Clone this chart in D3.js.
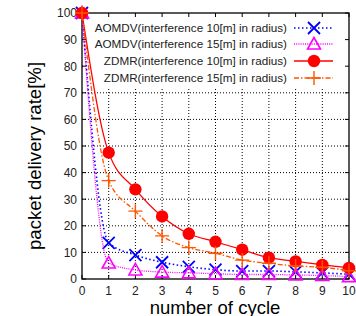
<!DOCTYPE html>
<html>
<head>
<meta charset="utf-8">
<script src="https://cdn.jsdelivr.net/npm/d3@7"></script>
<style>
  body { margin: 0; background: #fff; }
  text { font-family: "Liberation Sans", Arial, sans-serif; }
</style>
</head>
<body>
<div id="chart"></div>
<script>
// number of cycle
var cycles = [0, 1, 2, 3, 4, 5, 6, 7, 8, 9, 10]
var aomdv10 = [100, 13.6, 9, 6.3, 4.6, 3.5, 3, 3, 2.7, 2.3, 1.8]
var aomdv15 = [100, 6, 3.4, 2.6, 2.3, 2, 1.7, 1.7, 1.5, 1.3, 0.9]
var zdmr10 = [100, 47.5, 33.7, 23.5, 17, 14, 11, 8, 6.6, 5.3, 4.2]
var zdmr15 = [100, 37, 25.5, 16.2, 11.8, 9.7, 7.1, 5.9, 4.9, 4.4, 3.1]
var seriesNames = [
    "AOMDV(interference 10[m] in radius)",
    "AOMDV(interference 15[m] in radius)",
    "ZDMR(interference 10[m] in radius)",
    "ZDMR(interference 15[m] in radius)"
]
var yTicks = [0, 10, 20, 30, 40, 50, 60, 70, 80, 90, 100]

var W = 356, H = 316
var pL = 82, pR = 349, pT = 13, pB = 279

var svg = d3.select("#chart").append("svg")
    .attr("width", W)
    .attr("height", H)

var x = d3.scaleLinear().domain([0, 10]).range([pL, pR])
var y = d3.scaleLinear().domain([0, 100]).range([pB, pT])

// grid
var grid = svg.append("g").attr("stroke", "#000").attr("stroke-width", 1)
    .attr("stroke-dasharray", "1,2")
grid.selectAll(".gx").data(cycles.slice(1, -1)).enter().append("line")
    .attr("x1", function (d) { return x(d) }).attr("x2", function (d) { return x(d) })
    .attr("y1", pB).attr("y2", pT)
grid.selectAll(".gy").data(yTicks.slice(1, -1)).enter().append("line")
    .attr("y1", function (d) { return y(d) }).attr("y2", function (d) { return y(d) })
    .attr("x1", pL).attr("x2", pR)

// legend background hides grid
svg.append("rect")
    .attr("x", pL + 1).attr("y", pT + 1)
    .attr("width", pR - pL - 2).attr("height", 74)
    .attr("fill", "#fff")

// ticks (mirrored, inward)
var tk = svg.append("g").attr("stroke", "#000").attr("stroke-width", 1)
cycles.forEach(function (d) {
    tk.append("line").attr("x1", x(d)).attr("x2", x(d)).attr("y1", pB).attr("y2", pB - 4)
    tk.append("line").attr("x1", x(d)).attr("x2", x(d)).attr("y1", pT).attr("y2", pT + 4)
})
yTicks.forEach(function (d) {
    tk.append("line").attr("y1", y(d)).attr("y2", y(d)).attr("x1", pL).attr("x2", pL + 4)
    tk.append("line").attr("y1", y(d)).attr("y2", y(d)).attr("x1", pR).attr("x2", pR - 4)
})

// tick labels
svg.append("g").selectAll("text").data(cycles).enter().append("text")
    .attr("x", function (d) { return x(d) })
    .attr("y", pB + 16)
    .attr("text-anchor", "middle")
    .attr("font-size", 12)
    .attr("fill", "#222")
    .text(function (d) { return d })
svg.append("g").selectAll("text").data(yTicks).enter().append("text")
    .attr("x", pL - 5)
    .attr("y", function (d) { return y(d) + 4.3 })
    .attr("text-anchor", "end")
    .attr("font-size", 12)
    .attr("fill", "#222")
    .text(function (d) { return d })

// axis titles
svg.append("text")
    .attr("x", 215)
    .attr("y", 314)
    .attr("text-anchor", "middle")
    .attr("font-size", 18.5)
    .text("number of cycle")
svg.append("text")
    .attr("transform", "translate(41,156) rotate(-90)")
    .attr("text-anchor", "middle")
    .attr("font-size", 18.6)
    .text("packet delivery rate[%]")

// frame
svg.append("rect")
    .attr("x", pL).attr("y", pT)
    .attr("width", pR - pL).attr("height", pB - pT)
    .attr("fill", "none").attr("stroke", "#000").attr("stroke-width", 1.3)

var series = [
    { values: aomdv10, color: "#0000ff", dash: "1.5,2.5", width: 1.6, marker: "x" },
    { values: aomdv15, color: "#ff00ff", dash: "1,1.2", width: 1.3, marker: "tri" },
    { values: zdmr10, color: "#ff0000", dash: null, width: 1.3, marker: "circle" },
    { values: zdmr15, color: "#ff5500", dash: "5,2,1.5,2", width: 1.3, marker: "plus" }
]

function drawMarker(g, type, cx, cy, color) {
    if (type == "x") {
        g.append("path").attr("d", "M" + (cx - 6) + "," + (cy - 6) + "L" + (cx + 6) + "," + (cy + 6) +
            "M" + (cx - 6) + "," + (cy + 6) + "L" + (cx + 6) + "," + (cy - 6))
            .attr("stroke", color).attr("stroke-width", 1.8).attr("fill", "none")
    } else if (type == "tri") {
        g.append("path").attr("d", "M" + cx + "," + (cy - 6.5) + "L" + (cx + 6.5) + "," + (cy + 5) +
            "L" + (cx - 6.5) + "," + (cy + 5) + "Z")
            .attr("stroke", color).attr("stroke-width", 1.6).attr("fill", "none")
    } else if (type == "circle") {
        g.append("circle").attr("cx", cx).attr("cy", cy).attr("r", 6.2).attr("fill", color)
    } else if (type == "plus") {
        g.append("path").attr("d", "M" + (cx - 7) + "," + cy + "L" + (cx + 7) + "," + cy +
            "M" + cx + "," + (cy - 7) + "L" + cx + "," + (cy + 7))
            .attr("stroke", color).attr("stroke-width", 1.4).attr("fill", "none")
    }
}

var line = d3.line()
    .x(function (d, i) { return x(cycles[i]) })
    .y(function (d) { return y(d) })
    .curve(d3.curveMonotoneX)

series.forEach(function (s) {
    var g = svg.append("g")
    g.append("path")
        .attr("d", line(s.values))
        .attr("fill", "none")
        .attr("stroke", s.color)
        .attr("stroke-width", s.width)
        .attr("stroke-dasharray", s.dash)
    s.values.forEach(function (v, i) {
        drawMarker(g, s.marker, x(cycles[i]), y(v), s.color)
    })
})

// legend
var rowsY = [28, 44, 61, 78]
series.forEach(function (s, i) {
    var g = svg.append("g")
    g.append("text")
        .attr("x", 287)
        .attr("y", rowsY[i] + 4.2)
        .attr("text-anchor", "end")
        .attr("font-size", 11.7)
        .attr("fill", "#222")
        .text(seriesNames[i])
    g.append("line")
        .attr("x1", 294).attr("x2", 333)
        .attr("y1", rowsY[i]).attr("y2", rowsY[i])
        .attr("stroke", s.color)
        .attr("stroke-width", s.width)
        .attr("stroke-dasharray", s.dash)
    drawMarker(g, s.marker, 314, rowsY[i], s.color)
})
</script>
</body>
</html>
